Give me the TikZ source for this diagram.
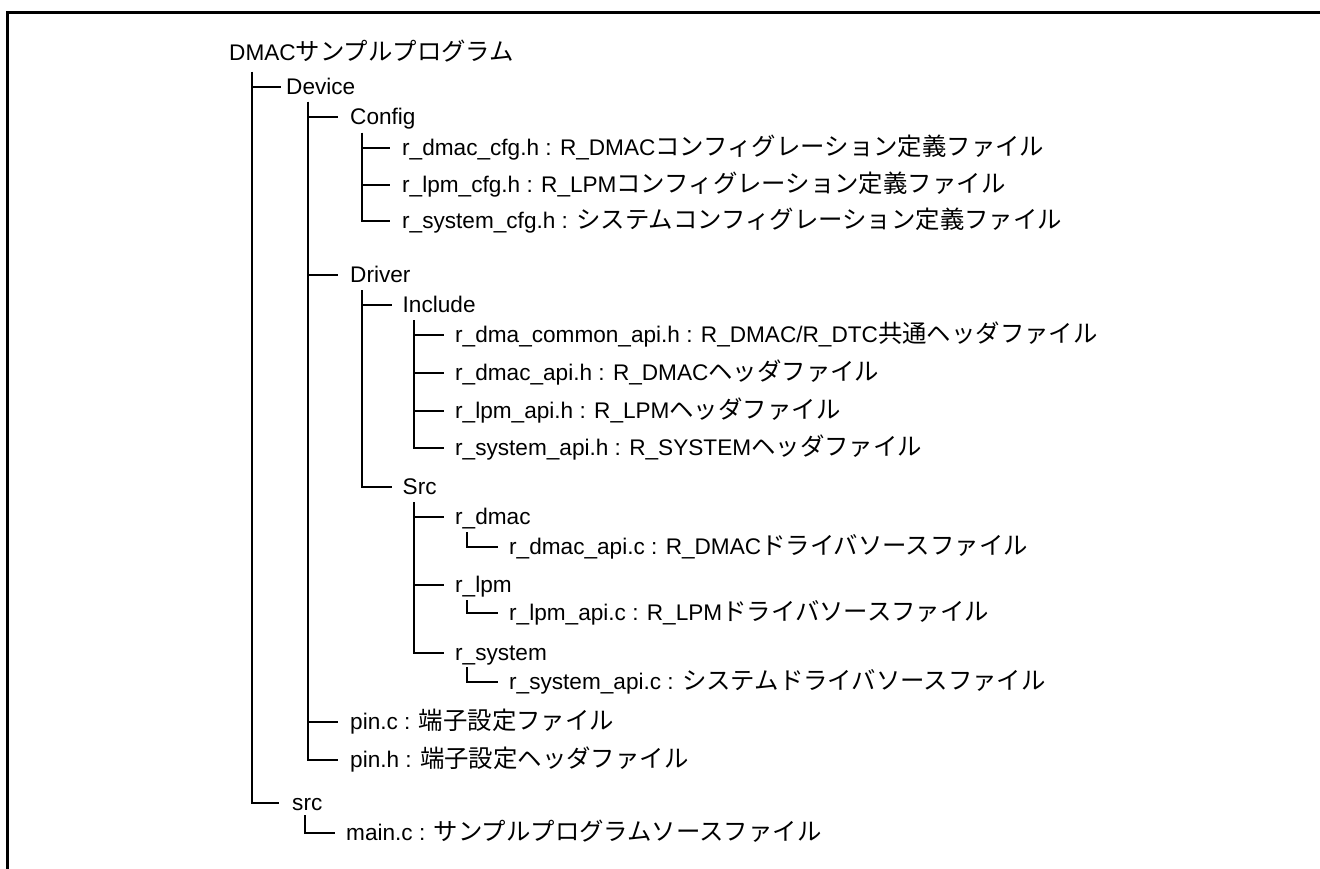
\documentclass[tikz,border=0pt]{standalone}
\usepackage{fontspec}
\setmainfont{Liberation Sans}
\newfontfamily\jpfont[Scale=1.08]{Noto Sans CJK JP}
\newcommand\jtxt[1]{{\jpfont #1}}
\begin{document}
\begin{tikzpicture}[x=1pt,y=-1pt,
  item/.style={anchor=west,inner sep=0pt,text height=16pt,text depth=1pt,font=\fontsize{22.6}{27}\selectfont},
  tree/.style={line width=2pt},
  frame/.style={line width=2.2pt}]
\useasboundingbox (0,0) rectangle (1320,869);
% frame
\coordinate (fbl) at (7.5,869);
\coordinate (ftl) at (7.5,12.5);
\coordinate (ftr) at (1320,12.5);
\draw[frame] (fbl) -- (ftl) -- (ftr);
% nodes
\node[item] (root) at (229,53) {DMAC\jtxt{サンプルプログラム}};
\node[item] (device) at (286,87) {Device};
\node[item] (config) at (350,117) {Config};
\node[item] (rdmaccfg) at (402,148) {r\_dmac\_cfg.h : R\_DMAC\jtxt{コンフィグレーション定義ファイル}};
\node[item] (rlpmcfg) at (402,185) {r\_lpm\_cfg.h : R\_LPM\jtxt{コンフィグレーション定義ファイル}};
\node[item] (rsyscfg) at (402,221) {r\_system\_cfg.h : \jtxt{システムコンフィグレーション定義ファイル}};
\node[item] (driver) at (350,275) {Driver};
\node[item] (include) at (402.5,305) {Include};
\node[item] (rdmacommon) at (455,335) {r\_dma\_common\_api.h : R\_DMAC/R\_DTC\jtxt{共通ヘッダファイル}};
\node[item] (rdmacapi) at (455,373) {r\_dmac\_api.h : R\_DMAC\jtxt{ヘッダファイル}};
\node[item] (rlpmapi) at (455,411) {r\_lpm\_api.h : R\_LPM\jtxt{ヘッダファイル}};
\node[item] (rsysapi) at (455,448) {r\_system\_api.h : R\_SYSTEM\jtxt{ヘッダファイル}};
\node[item] (srcdir) at (402.5,487) {Src};
\node[item] (rdmac) at (455,517) {r\_dmac};
\node[item] (rdmacapic) at (509,547) {r\_dmac\_api.c : R\_DMAC\jtxt{ドライバソースファイル}};
\node[item] (rlpm) at (455,585) {r\_lpm};
\node[item] (rlpmapic) at (509,613) {r\_lpm\_api.c : R\_LPM\jtxt{ドライバソースファイル}};
\node[item] (rsystem) at (455,653) {r\_system};
\node[item] (rsysapic) at (509,682) {r\_system\_api.c : \jtxt{システムドライバソースファイル}};
\node[item] (pinc) at (350,722) {pin.c : \jtxt{端子設定ファイル}};
\node[item] (pinh) at (350,760) {pin.h : \jtxt{端子設定ヘッダファイル}};
\node[item] (src) at (292,803) {src};
\node[item] (mainc) at (346,833) {main.c : \jtxt{サンプルプログラムソースファイル}};
% trunk coordinates
\coordinate (root-v) at (252,72);
\coordinate (device-v) at (308,102);
\coordinate (config-v) at (362,133);
\coordinate (driver-v) at (362,290);
\coordinate (include-v) at (414,320);
\coordinate (srcdir-v) at (414,502);
\coordinate (rdmac-v) at (466.5,532);
\coordinate (rlpm-v) at (466.5,600);
\coordinate (rsystem-v) at (466.5,667);
\coordinate (src-v) at (305,815);
% connectors
\draw[tree] (root-v) |- ([xshift=-5pt]device.west);
\draw[tree] (root-v) |- ([xshift=-13pt]src.west);
\foreach \c in {config,driver,pinc,pinh}
  \draw[tree] (device-v) |- ([xshift=-12pt]\c.west);
\foreach \c in {rdmaccfg,rlpmcfg,rsyscfg}
  \draw[tree] (config-v) |- ([xshift=-12pt]\c.west);
\foreach \c in {include,srcdir}
  \draw[tree] (driver-v) |- ([xshift=-11pt]\c.west);
\foreach \c in {rdmacommon,rdmacapi,rlpmapi,rsysapi}
  \draw[tree] (include-v) |- ([xshift=-11pt]\c.west);
\foreach \c in {rdmac,rlpm,rsystem}
  \draw[tree] (srcdir-v) |- ([xshift=-11pt]\c.west);
\draw[tree] (rdmac-v) |- ([xshift=-11pt]rdmacapic.west);
\draw[tree] (rlpm-v) |- ([xshift=-11pt]rlpmapic.west);
\draw[tree] (rsystem-v) |- ([xshift=-11pt]rsysapic.west);
\draw[tree] (src-v) |- ([xshift=-11pt]mainc.west);
\end{tikzpicture}
\end{document}
